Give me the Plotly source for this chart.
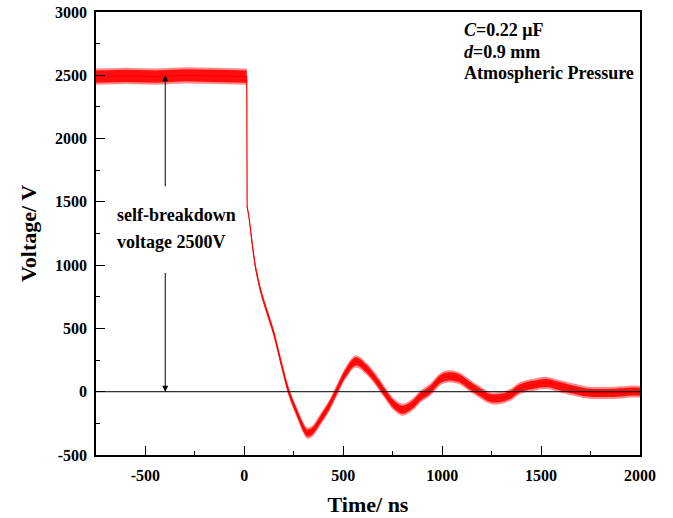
import plotly.graph_objects as go

# ====================================
# waveform (centre of the noisy trace)

time_ns = [-750, -600, -450, -300, -150, 0, 12, 14, 22, 39, 56, 81, 106, 148, 190, 224,
           266, 300, 317, 342, 384, 427, 469, 512, 563, 613, 664, 706, 757, 799,
           849, 891, 940, 991, 1033, 1083, 1134, 1185, 1244, 1294, 1345, 1395,
           1463, 1530, 1598, 1665, 1733, 1834, 1900, 1969, 2000]
voltage = [2490, 2495, 2490, 2500, 2495, 2490, 2490, 1460, 1390, 1177, 987, 806, 672,
           466, 200, 2, -167, -290, -326, -313, -221, -116, 16, 148, 240, 187, 95,
           2, -103, -142, -103, -37, 16, 100, 121, 108, 55, 2, -50, -50, -24, 29,
           55, 69, 42, 16, -6, -10, -5, 2, 0]
# half thickness of the dense part of the noise band, V
noise = [48, 48, 48, 48, 48, 48, 48, 8, 8, 12, 14, 16, 17, 20, 22, 24,
         26, 28, 28, 28, 30, 30, 30, 32, 32, 32, 32, 32, 32, 32,
         32, 32, 32, 32, 32, 32, 32, 32, 32, 32, 32, 32,
         32, 32, 32, 32, 32, 32, 32, 32, 32]
# index where the slow decay starts (drawn smoothed from there on)
SPLIT = 8

x_ticks = [-500, 0, 500, 1000, 1500, 2000]
y_ticks = [-500, 0, 500, 1000, 1500, 2000, 2500, 3000]

FONT = 'Liberation Serif'
RED = '#ff0000'

# ====================================

fig = go.Figure()


def add_band(t, v, n, shape):
    for extra, colour in [(16, 'rgba(255,0,0,0.45)'), (0, 'rgba(255,0,0,0.9)')]:
        lo = [a - b - extra * (b > 10) for a, b in zip(v, n)]
        hi = [a + b + extra * (b > 10) for a, b in zip(v, n)]
        fig.add_trace(go.Scatter(x=t, y=lo, mode='lines',
                                 line=dict(width=0, color=RED, shape=shape),
                                 showlegend=False, hoverinfo='skip'))
        fig.add_trace(go.Scatter(x=t, y=hi, mode='lines', fill='tonexty',
                                 fillcolor=colour,
                                 line=dict(width=0, color=RED, shape=shape),
                                 showlegend=False, hoverinfo='skip'))
    fig.add_trace(go.Scatter(x=t, y=v, mode='lines',
                             line=dict(width=1.2, color=RED, shape=shape),
                             showlegend=False))


add_band(time_ns[:SPLIT], voltage[:SPLIT], noise[:SPLIT], 'linear')
add_band(time_ns[SPLIT - 1:], voltage[SPLIT - 1:], noise[SPLIT - 1:], 'spline')

# zero line
fig.add_shape(type='line', xref='paper', yref='y', x0=0, x1=1, y0=0, y1=0,
              line=dict(color='black', width=1))

# double arrow for the breakdown voltage
fig.add_annotation(x=-400, y=2500, ax=-400, ay=1610, xref='x', yref='y',
                   axref='x', ayref='y', text='', showarrow=True,
                   arrowhead=2, arrowsize=1.2, arrowwidth=1, arrowcolor='black')
fig.add_annotation(x=-400, y=0, ax=-400, ay=950, xref='x', yref='y',
                   axref='x', ayref='y', text='', showarrow=True,
                   arrowhead=2, arrowsize=1.2, arrowwidth=1, arrowcolor='black')

text_lines = [
    (-652, 1398, '<b>self-breakdown</b>'),
    (-652, 1185, '<b>voltage 2500V</b>'),
    (1102, 2859, '<b><i>C</i>=0.22 μF</b>'),
    (1102, 2686, '<b><i>d</i>=0.9 mm</b>'),
    (1102, 2520, '<b>Atmospheric Pressure</b>'),
]
for tx, ty, txt in text_lines:
    fig.add_annotation(x=tx, y=ty, xref='x', yref='y', showarrow=False,
                       xanchor='left', yanchor='middle', text=txt,
                       font=dict(family=FONT, size=18, color='black'))

axis_common = dict(
    showgrid=False, zeroline=False, automargin=False,
    showline=True, linecolor='black', linewidth=1.5, mirror=True,
    ticks='inside', ticklen=9, tickcolor='black', tickwidth=1,
    ticklabeloverflow='allow',
    tickfont=dict(family=FONT, size=16, color='black', weight='bold'),
    minor=dict(ticks='inside', ticklen=4, tickcolor='black', tickwidth=1),
)

fig.update_xaxes(range=[-750, 2000], tickvals=x_ticks,
                 ticktext=[str(t) for t in x_ticks],
                 minor_dtick=250, minor_tick0=0, ticklabelstandoff=5,
                 title=dict(text='<b>Time/ ns</b>', standoff=14,
                            font=dict(family=FONT, size=22, color='black')),
                 **axis_common)
fig.update_yaxes(range=[-500, 3000], tickvals=y_ticks,
                 ticktext=[str(t) for t in y_ticks],
                 minor_dtick=250, minor_tick0=0, ticklabelstandoff=4,
                 title=dict(text='<b>Voltage/ V</b>', standoff=12,
                            font=dict(family=FONT, size=22, color='black')),
                 **axis_common)

fig.update_layout(
    width=673, height=518,
    paper_bgcolor='white',
    plot_bgcolor='white',
    margin=dict(t=12, b=63, l=96, r=33),
    showlegend=False,
)

# drop the default page margin so the figure sits at the window corner
fig.write_html('out.html', config={'displayModeBar': False},
               post_script="document.body.style.margin='0';")
